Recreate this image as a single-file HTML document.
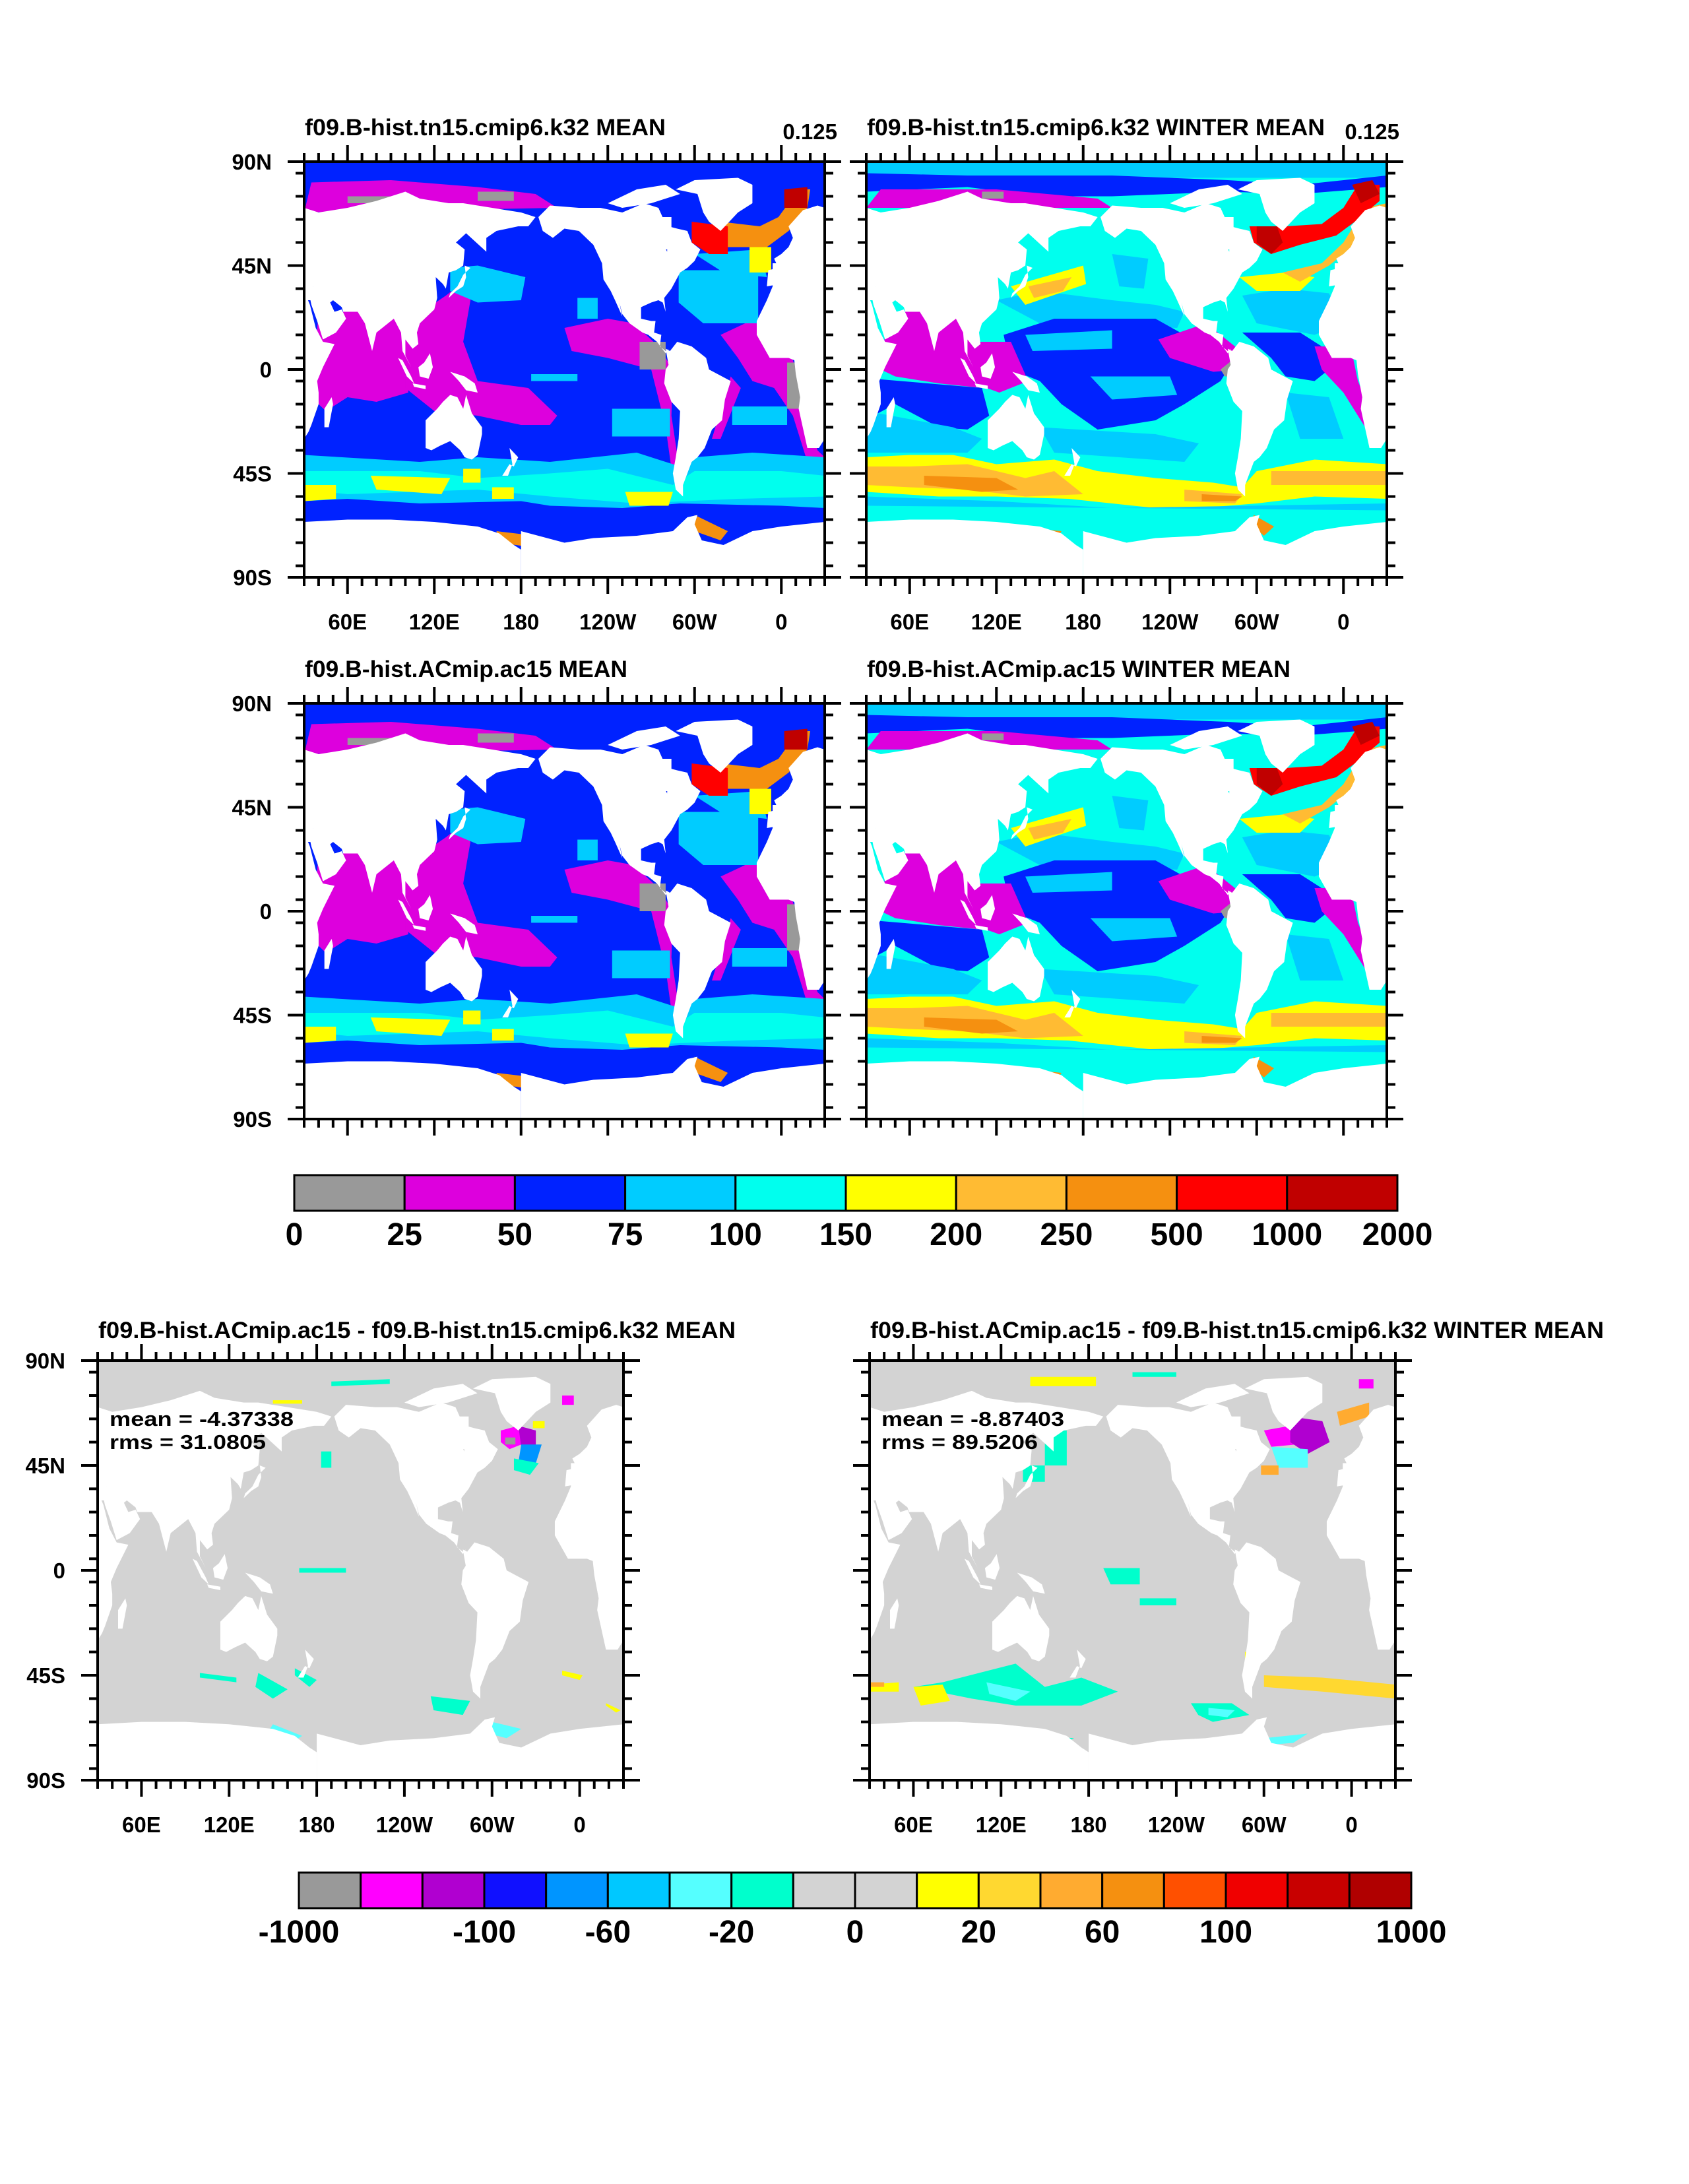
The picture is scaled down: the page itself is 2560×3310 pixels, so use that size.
<!DOCTYPE html>
<html><head><meta charset="utf-8"><title>Ocean maps</title>
<style>
html,body{margin:0;padding:0;background:#fff;}
svg{display:block;}
text{font-family:"Liberation Sans",Arial,sans-serif;font-weight:bold;fill:#000;}
</style></head>
<body>
<svg id="root" xmlns="http://www.w3.org/2000/svg" width="2560" height="3310" viewBox="0 0 2560 3310">
<rect x="0" y="0" width="2560" height="3310" fill="#fff"/>
</svg>
<script>
// ---------- colour bars ----------
const topLevels = ['0','25','50','75','100','150','200','250','500','1000','2000'];
const topColors = ['#999999','#dd00dd','#0022ff','#00ccff','#00ffee','#ffff00','#ffbb33','#f59010','#ff0000','#c00000'];
const diffColors = ['#999999','#ff00ff','#b000d0','#1010ff','#0095ff','#00c8ff','#55ffff','#00ffcc','#d3d3d3','#d3d3d3','#ffff00','#ffd830','#ffab30','#f59010','#ff5000','#f00000','#c80000','#b00000'];
const diffLabelIdx = [0,3,5,7,9,11,13,15,18];
const diffLabels = ['-1000','-100','-60','-20','0','20','60','100','1000'];

// ---------- axis ticks ----------
const lonMajor = [60,120,180,240,300,360];
const lonMajorLabels = ['60E','120E','180','120W','60W','0'];
const latMajor = [90,45,0,-45,-90];
const latMajorLabels = ['90N','45N','0','45S','90S'];

// ---------- land (lon,lat), drawn at offsets 0 and 360 ----------
const land = [
 {n:'africa',p:[[-17,21],[-17,15],[-8,5],[5,5],[9,4],[10,-2],[13,-12],[12,-17],[18,-34],[26,-34],[33,-27],[35,-24],[40,-15],[40,-10],[39,-5],[43,1],[51,11],[43,12],[38,18],[34,28],[32,31],[20,32],[10,37],[-6,36],[-10,30],[-17,21]]},
 {n:'mediterranean-fill',p:[[-6,30],[36,30],[36,46],[-6,46]]},
 {n:'eurasia',p:[[-10,36],[-9,43],[-2,44],[-5,48],[0,50],[5,53],[8,57],[5,62],[15,69],[25,71],[40,68],[60,70],[80,73],[100,77],[110,74],[130,72],[140,72],[160,70],[180,68],[190,66],[185,62],[178,62],[163,60],[156,57],[156,51],[142,59],[135,55],[141,52],[140,45],[135,43],[130,42],[128,35],[126,37],[121,40],[122,31],[120,26],[110,20],[108,16],[109,11],[105,9],[100,13],[100,6],[104,1],[98,8],[97,16],[92,22],[80,16],[77,8],[72,20],[67,25],[57,25],[56,27],[50,30],[48,29],[51,25],[56,26],[59,22],[52,16],[43,13],[39,21],[35,28],[34,31],[36,36],[28,37],[26,40],[23,38],[20,40],[19,42],[13,45],[17,41],[15,38],[12,42],[8,44],[3,43],[-1,37],[-10,36]]},
 {n:'australia',p:[[114,-22],[114,-34],[118,-35],[124,-33],[131,-31],[138,-35],[141,-38],[146,-39],[150,-37],[153,-28],[153,-25],[146,-19],[142,-11],[140,-17],[136,-12],[131,-11],[126,-14],[122,-17],[114,-22]]},
 {n:'new-guinea',p:[[131,-1],[141,-3],[148,-6],[150,-10],[142,-9],[137,-5],[131,-1]]},
 {n:'borneo',p:[[109,1],[110,-3],[116,-4],[119,1],[117,7],[113,3],[109,1]]},
 {n:'sumatra',p:[[95,5],[98,4],[104,-3],[106,-6],[101,-3],[95,5]]},
 {n:'java',p:[[105,-6],[114,-7],[114,-8.5],[106,-7.5]]},
 {n:'japan',p:[[130,31],[135,34],[140,36],[142,40],[141,45],[145,44],[140,41],[136,36],[131,33]]},
 {n:'new-zealand',p:[[172,-34],[178,-38],[175,-42],[172,-41],[167,-46],[171,-46],[174,-41]]},
 {n:'madagascar',p:[[44,-25],[47,-25],[50,-15],[49,-12],[44,-17]]},
 {n:'north-america',p:[[-168,66],[-160,71],[-140,70],[-125,70],[-110,68],[-95,72],[-85,70],[-80,63],[-94,60],[-92,57],[-82,55],[-79,51],[-78,62],[-72,61],[-65,60],[-62,55],[-56,52],[-60,47],[-65,44],[-70,42],[-76,35],[-81,31],[-80,25],[-82,29],[-85,30],[-90,29],[-97,27],[-97,22],[-90,21],[-87,21],[-88,16],[-83,15],[-84,10],[-80,8],[-78,9],[-80,7],[-86,12],[-92,15],[-96,16],[-105,20],[-110,24],[-112,29],[-110,23],[-115,30],[-118,34],[-123,39],[-124,46],[-130,54],[-140,60],[-150,61],[-158,57],[-165,60],[-168,66]]},
 {n:'hudson-bay-fill',p:[[-95,52],[-76,52],[-76,66],[-95,66]]},
 {n:'greenland',p:[[-73,78],[-60,82],[-30,83],[-20,80],[-20,72],[-30,68],[-42,60],[-50,64],[-54,68],[-58,76],[-73,78]]},
 {n:'arctic-islands',p:[[-120,72],[-100,78],[-80,80],[-70,76],[-90,72],[-110,70]]},
 {n:'south-america',p:[[-80,9],[-77,8],[-72,12],[-62,10],[-52,5],[-50,0],[-44,-2],[-35,-5],[-39,-13],[-41,-22],[-48,-26],[-53,-34],[-58,-38],[-62,-40],[-65,-45],[-68,-50],[-68,-55],[-73,-52],[-75,-45],[-73,-38],[-71,-30],[-70,-18],[-76,-14],[-81,-6],[-80,0],[-78,2],[-80,9]]},
 {n:'antarctica',p:[[-180,-70],[-150,-75],[-130,-73],[-100,-72],[-75,-70],[-65,-64],[-58,-63],[-60,-67],[-55,-74],[-40,-76],[-20,-70],[0,-68],[30,-66],[60,-65],[90,-65],[120,-66],[150,-68],[165,-71],[175,-76],[180,-78],[180,-90],[-180,-90]]}
];

// ---------- ocean fields: [colour, polygon] ----------
const C = {G:'#999999',M:'#dd00dd',B:'#0022ff',L:'#00ccff',C:'#00ffee',Y:'#ffff00',O1:'#ffbb33',O2:'#f59010',R:'#ff0000',D:'#c00000'};
const meanLayers = [
 ['B',[[30,90],[390,90],[390,-90],[30,-90]]],
 ['M',[[35,81],[90,82],[150,79],[190,76],[205,70],[30,68]]],
 ['G',[[60,75],[100,75],[100,72],[60,72]]],
 ['G',[[150,77],[175,77],[175,73],[150,73]]],
 ['M',[[40,25],[100,25],[102,-10],[80,-14],[60,-12],[45,-18],[35,-12]]],
 ['M',[[100,20],[128,32],[140,38],[145,30],[140,12],[150,-5],[185,-8],[205,-20],[200,-24],[180,-24],[150,-20],[120,-18],[100,-8]]],
 ['M',[[210,18],[240,22],[258,20],[275,10],[285,0],[284,-20],[290,-45],[293,-52],[286,-52],[280,-25],[270,0],[240,5],[215,8]]],
 ['M',[[318,15],[335,20],[355,22],[365,10],[370,0],[378,-20],[385,-35],[390,-38],[390,-45],[378,-40],[368,-20],[355,-8],[340,-5],[330,5]]],
 ['M',[[325,-3],[332,-8],[318,-30],[312,-30]]],
 ['L',[[131,44],[150,45],[183,40],[180,30],[150,29],[131,34]]],
 ['L',[[219,31],[233,31],[233,22],[219,22]]],
 ['L',[[187,-2],[219,-2],[219,-5],[187,-5]]],
 ['L',[[243,-17],[283,-17],[283,-29],[243,-29]]],
 ['L',[[326,-16],[364,-16],[364,-24],[326,-24]]],
 ['L',[[289,43],[344,43],[344,20],[306,20],[289,29]]],
 ['L',[[30,-37],[110,-40],[150,-38],[200,-40],[260,-36],[290,-42],[300,-38],[340,-36],[390,-38],[390,-62],[30,-60]]],
 ['C',[[30,-44],[110,-44],[150,-47],[200,-45],[240,-43],[285,-50],[300,-44],[360,-44],[390,-46],[390,-55],[330,-56],[260,-58],[200,-55],[150,-52],[60,-54],[30,-52]]],
 ['B',[[30,-57],[60,-56],[110,-58],[180,-57],[200,-59],[250,-60],[290,-58],[360,-59],[390,-60],[390,-70],[30,-70]]],
 ['Y',[[30,-50],[52,-50],[52,-56],[30,-57]]],
 ['Y',[[76,-46],[131,-47],[125,-54],[80,-52]]],
 ['Y',[[140,-43],[152,-43],[152,-49],[140,-49]]],
 ['Y',[[160,-51],[175,-51],[175,-56],[160,-56]]],
 ['Y',[[252,-53],[285,-53],[282,-59],[255,-59]]],
 ['O2',[[163,-70],[190,-72],[188,-77],[165,-75]]],
 ['O2',[[300,-63],[323,-70],[318,-74],[300,-70]]],
 ['L',[[300,50],[345,52],[350,40],[320,42]]],
 ['Y',[[338,53],[353,53],[353,42],[338,42]]],
 ['O2',[[318,64],[345,62],[358,66],[372,78],[380,78],[378,70],[365,60],[350,53],[322,53]]],
 ['R',[[298,64],[323,62],[323,50],[310,50],[298,55]]],
 ['D',[[362,78],[378,79],[378,70],[362,70]]],
 ['G',[[262,12],[280,12],[280,0],[262,0]]],
 ['G',[[364,3],[374,3],[374,-17],[364,-17]]]
];
const winterLayers = [
 ['C',[[30,90],[390,90],[390,-90],[30,-90]]],
 ['L',[[30,90],[390,90],[390,83],[30,83]]],
 ['B',[[30,85],[100,84],[200,84],[280,82],[330,80],[390,84],[390,79],[330,76],[280,77],[200,75],[150,75],[100,79],[30,77]]],
 ['M',[[40,78],[120,78],[190,74],[200,70],[30,70]]],
 ['G',[[110,77],[125,77],[125,74],[110,74]]],
 ['L',[[200,50],[225,48],[222,35],[205,36]]],
 ['L',[[120,30],[150,34],[200,30],[230,28],[250,25],[245,18],[150,20]]],
 ['Y',[[130,36],[180,45],[182,37],[140,28]]],
 ['O1',[[142,36],[172,40],[166,34],[146,31]]],
 ['B',[[125,15],[160,22],[230,22],[250,15],[270,10],[285,5],[275,-5],[250,-15],[230,-22],[190,-26],[165,-15],[150,-5],[130,0]]],
 ['L',[[140,15],[200,17],[200,9],[145,8]]],
 ['L',[[185,-3],[240,-3],[245,-11],[200,-13]]],
 ['M',[[232,13],[265,20],[285,10],[290,0],[270,-1],[240,5]]],
 ['G',[[275,0],[285,5],[285,-3],[278,-3]]],
 ['M',[[45,25],[100,25],[110,0],[110,-8],[80,-6],[50,-3],[40,0]]],
 ['M',[[100,12],[130,12],[142,-5],[122,-10],[100,-5]]],
 ['B',[[35,-4],[110,-8],[115,-20],[100,-26],[80,-25],[50,-15],[35,-20]]],
 ['L',[[30,-18],[90,-25],[110,-30],[100,-36],[30,-36]]],
 ['L',[[150,-25],[230,-28],[260,-32],[250,-40],[160,-36]]],
 ['Y',[[30,-38],[60,-37],[90,-37],[120,-41],[160,-39],[190,-44],[230,-47],[270,-49],[290,-51],[300,-44],[340,-39],[390,-41],[390,-56],[340,-55],[300,-58],[260,-60],[230,-60],[200,-58],[170,-56],[120,-55],[80,-55],[30,-53]]],
 ['O1',[[30,-42],[60,-42],[100,-41],[140,-47],[160,-44],[180,-54],[140,-55],[100,-52],[60,-51],[30,-50]]],
 ['O1',[[250,-52],[290,-54],[285,-58],[250,-57]]],
 ['O1',[[310,-44],[390,-44],[390,-50],[310,-50]]],
 ['O2',[[70,-46],[120,-47],[135,-52],[110,-53],[70,-50]]],
 ['O2',[[262,-54],[290,-55],[285,-57],[262,-57]]],
 ['L',[[30,-55],[120,-57],[200,-60],[390,-58],[390,-61],[30,-59]]],
 ['L',[[290,32],[320,35],[350,33],[360,20],[340,15],[300,20]]],
 ['B',[[290,16],[330,16],[345,10],[350,0],[340,-5],[320,-3],[310,5]]],
 ['M',[[340,10],[365,10],[370,-5],[380,-20],[375,-25],[360,-10],[345,0]]],
 ['L',[[320,-10],[350,-12],[360,-30],[330,-30]]],
 ['Y',[[288,40],[320,42],[340,40],[330,34],[300,34]]],
 ['O1',[[318,42],[345,46],[360,55],[375,70],[390,72],[390,62],[370,55],[350,45],[330,38]]],
 ['R',[[295,62],[320,62],[345,63],[360,70],[370,80],[385,80],[385,73],[370,65],[355,58],[330,54],[310,50],[298,55]]],
 ['D',[[300,62],[314,62],[318,55],[310,50],[300,55]]],
 ['D',[[366,80],[380,82],[385,76],[372,72]]],
 ['O2',[[150,-69],[165,-70],[162,-73],[150,-72]]],
 ['O2',[[298,-63],[312,-68],[305,-72],[296,-67]]]
];
const diffMeanLayers = [
 ['#d3d3d3',[[30,90],[390,90],[390,-90],[30,-90]]],
 ['#ffff00',[[150,73],[170,73],[170,71.5],[150,71.5]]],
 ['#00ffcc',[[190,81],[230,82],[230,80],[190,79]]],
 ['#ff00ff',[[306,60],[318,62],[320,54],[312,52],[306,55]]],
 ['#999999',[[309,57],[316,57],[316,54],[309,54]]],
 ['#b000d0',[[318,62],[330,60],[330,53],[320,53]]],
 ['#0095ff',[[320,54],[334,54],[330,46],[318,46]]],
 ['#00ffcc',[[315,48],[332,46],[326,41],[315,43]]],
 ['#ff00ff',[[348,75],[356,75],[356,71],[348,71]]],
 ['#ffff00',[[328,64],[336,64],[336,61],[328,61]]],
 ['#00ffcc',[[183,51],[190,51],[190,44],[183,44]]],
 ['#00ffcc',[[168,1],[200,1],[200,-1],[168,-1]]],
 ['#00ffcc',[[100,-44],[125,-46],[125,-48],[100,-46]]],
 ['#00ffcc',[[140,-44],[160,-51],[150,-55],[138,-50]]],
 ['#00ffcc',[[165,-42],[180,-47],[175,-50],[165,-45]]],
 ['#00ffcc',[[258,-54],[285,-56],[280,-62],[260,-60]]],
 ['#55ffff',[[300,-65],[320,-68],[310,-72],[298,-70]]],
 ['#55ffff',[[150,-66],[170,-71],[165,-73],[148,-68]]],
 ['#ffff00',[[348,-43],[362,-45],[360,-47],[348,-45]]],
 ['#ffff00',[[378,-57],[388,-60],[385,-61],[378,-58]]]
];
const diffWinterLayers = [
 ['#d3d3d3',[[30,90],[390,90],[390,-90],[30,-90]]],
 ['#ffff00',[[140,83],[185,83],[185,79],[140,79]]],
 ['#00ffcc',[[210,85],[240,85],[240,83],[210,83]]],
 ['#ff00ff',[[300,60],[318,62],[322,54],[305,53]]],
 ['#b000d0',[[318,66],[340,64],[345,55],[330,50],[318,55]]],
 ['#55ffff',[[305,53],[330,52],[330,44],[310,44]]],
 ['#ffab30',[[350,68],[372,72],[372,66],[352,62]]],
 ['#ff00ff',[[365,82],[375,82],[375,78],[365,78]]],
 ['#ffab30',[[298,45],[310,45],[310,41],[298,41]]],
 ['#00ffcc',[[150,60],[165,60],[165,45],[150,45]]],
 ['#00ffcc',[[135,45],[150,45],[150,38],[135,38]]],
 ['#00ffcc',[[190,1],[215,1],[215,-6],[195,-6]]],
 ['#00ffcc',[[215,-12],[240,-12],[240,-15],[215,-15]]],
 ['#00ffcc',[[80,-48],[130,-40],[150,-50],[175,-46],[200,-52],[175,-58],[130,-58],[100,-55],[60,-50]]],
 ['#55ffff',[[110,-48],[140,-52],[130,-56],[112,-53]]],
 ['#ffff00',[[30,-49],[50,-48],[50,-52],[30,-52]]],
 ['#ffff00',[[60,-50],[80,-49],[85,-56],[65,-58]]],
 ['#ffab30',[[30,-48],[40,-48],[40,-50],[30,-50]]],
 ['#00ffcc',[[250,-57],[278,-57],[290,-62],[265,-65],[255,-62]]],
 ['#55ffff',[[262,-59],[280,-60],[275,-63],[262,-62]]],
 ['#ffd830',[[300,-45],[340,-46],[390,-49],[390,-55],[340,-52],[300,-50]]],
 ['#55ffff',[[300,-72],[330,-70],[320,-74],[300,-75]]],
 ['#00ffcc',[[125,-70],[170,-72],[160,-75],[130,-73]]],
 ['#ffff00',[[287,-35],[292,-35],[292,-43],[287,-43]]]
];

// ---------- helpers ----------
const NS='http://www.w3.org/2000/svg';
const root=document.getElementById('root');
function mk(tag,parent){const e=document.createElementNS(NS,tag);parent.appendChild(e);return e;}
function ptsStr(p,off){return p.map(q=>(q[0]+off)+','+(-q[1])).join(' ');}
function txt(parent,x,y,s,size,anchor,tl){
  const t=mk('text',parent);
  t.setAttribute('x',x);t.setAttribute('y',y);t.setAttribute('font-size',size);
  t.setAttribute('text-anchor',anchor||'start');
  if(tl){t.setAttribute('textLength',tl);t.setAttribute('lengthAdjust','spacingAndGlyphs');}
  t.textContent=s;return t;
}

function drawPanel(cfg){
  const g=mk('g',root);
  
  
  const {x,y,w,h}=cfg;
  const sx=w/360, sy=h/180;
  const lonX=l=>x+(l-30)*sx, latY=a=>y+(90-a)*sy;
  const map=mk('svg',g);
  map.setAttribute('x',x);map.setAttribute('y',y);map.setAttribute('width',w);map.setAttribute('height',h);
  map.setAttribute('viewBox','30 -90 360 180');map.setAttribute('preserveAspectRatio','none');
  
  
  cfg.layers.forEach(L=>{
    const p=mk('polygon',map);
    p.setAttribute('points',ptsStr(L[1],0));
    p.setAttribute('fill',C[L[0]]||L[0]);
    
    
  });
  land.forEach(c=>{[0,360].forEach(off=>{
    const p=mk('polygon',map);
    p.setAttribute('points',ptsStr(c.p,off));
    p.setAttribute('fill','#fff');
    
    
  });});
  const fr=mk('rect',g);
  fr.setAttribute('x',x);fr.setAttribute('y',y);fr.setAttribute('width',w);fr.setAttribute('height',h);
  fr.setAttribute('fill','none');fr.setAttribute('stroke','#000');fr.setAttribute('stroke-width','4');
  
  
  let d='';
  for(let l=30;l<=390;l+=10){
    const X=lonX(l), maj=lonMajor.includes(l);
    const len=maj?25:13;
    d+=`M${X},${y}v${-len}M${X},${y+h}v${len}`;
  }
  for(let a=-85;a<=85;a+=10){
    const Y=latY(a);
    d+=`M${x},${Y}h-13M${x+w},${Y}h13`;
  }
  latMajor.forEach(a=>{const Y=latY(a);d+=`M${x},${Y}h-25M${x+w},${Y}h25`;});
  const tk=mk('path',g);
  tk.setAttribute('d',d);tk.setAttribute('stroke','#000');tk.setAttribute('stroke-width','4');tk.setAttribute('fill','none');
  
  
  if(cfg.ylab){
    latMajor.forEach((a,i)=>{
      const t=txt(g,x-49,latY(a)+12,latMajorLabels[i],33,'end');
      
      
    });
  }
  if(cfg.xlab){
    lonMajor.forEach((l,i)=>{
      const t=txt(g,lonX(l),y+h+79,lonMajorLabels[i],33,'middle');
      
      
    });
  }
  const tt=txt(g,x+1,y-(cfg.big?34:40),cfg.title,35,'start',cfg.tl);
  
  
  if(cfg.corner){
    const c=txt(g,x+w+19,y-34,cfg.corner,33,'end');
    
    
  }
  if(cfg.stats){
    const m=txt(g,x+18,y+99,cfg.stats[0],31,'start',cfg.stats[2]);
    
    
    const r=txt(g,x+18,y+134,cfg.stats[1],31,'start',cfg.stats[3]);
    
    
  }
}

drawPanel({name:'panel-tn15-mean',x:461,y:245,w:789,h:630,layers:meanLayers,title:'f09.B-hist.tn15.cmip6.k32 MEAN',tl:547,corner:'0.125',ylab:true,xlab:true});
drawPanel({name:'panel-tn15-winter',x:1313,y:245,w:789,h:630,layers:winterLayers,title:'f09.B-hist.tn15.cmip6.k32 WINTER MEAN',tl:694,corner:'0.125',ylab:false,xlab:true});
drawPanel({name:'panel-ac15-mean',x:461,y:1066,w:789,h:630,layers:meanLayers,title:'f09.B-hist.ACmip.ac15 MEAN',tl:489,ylab:true,xlab:false});
drawPanel({name:'panel-ac15-winter',x:1313,y:1066,w:789,h:630,layers:winterLayers,title:'f09.B-hist.ACmip.ac15 WINTER MEAN',tl:642,ylab:false,xlab:false});
drawPanel({name:'panel-diff-mean',x:148,y:2062,w:797,h:636,layers:diffMeanLayers,title:'f09.B-hist.ACmip.ac15 - f09.B-hist.tn15.cmip6.k32 MEAN',tl:966,big:true,ylab:true,xlab:true,stats:['mean = -4.37338','rms = 31.0805',279,237]});
drawPanel({name:'panel-diff-winter',x:1318,y:2062,w:797,h:636,layers:diffWinterLayers,title:'f09.B-hist.ACmip.ac15 - f09.B-hist.tn15.cmip6.k32 WINTER MEAN',tl:1112,big:true,ylab:false,xlab:true,stats:['mean = -8.87403','rms = 89.5206',277,237]});

function drawBar(name,x0,x1,y0,y1,colors,labelIdx,labels,ly){
  const g=mk('g',root);
  
  
  const bw=(x1-x0)/colors.length;
  colors.forEach((c,i)=>{
    const r=mk('rect',g);
    r.setAttribute('x',x0+i*bw);r.setAttribute('y',y0);r.setAttribute('width',bw);r.setAttribute('height',y1-y0);
    r.setAttribute('fill',c);r.setAttribute('stroke','#000');r.setAttribute('stroke-width','3');
    
    
  });
  labelIdx.forEach((k,i)=>{
    const t=txt(g,x0+k*bw,ly,labels[i],48,'middle');
    
    
  });
}
drawBar('colorbar-top',446,2118,1781,1835,topColors,topLevels.map((_,i)=>i),topLevels,1887);
drawBar('colorbar-diff',453,2139,2838,2892,diffColors,diffLabelIdx,diffLabels,2944);
</script>
</body></html>
